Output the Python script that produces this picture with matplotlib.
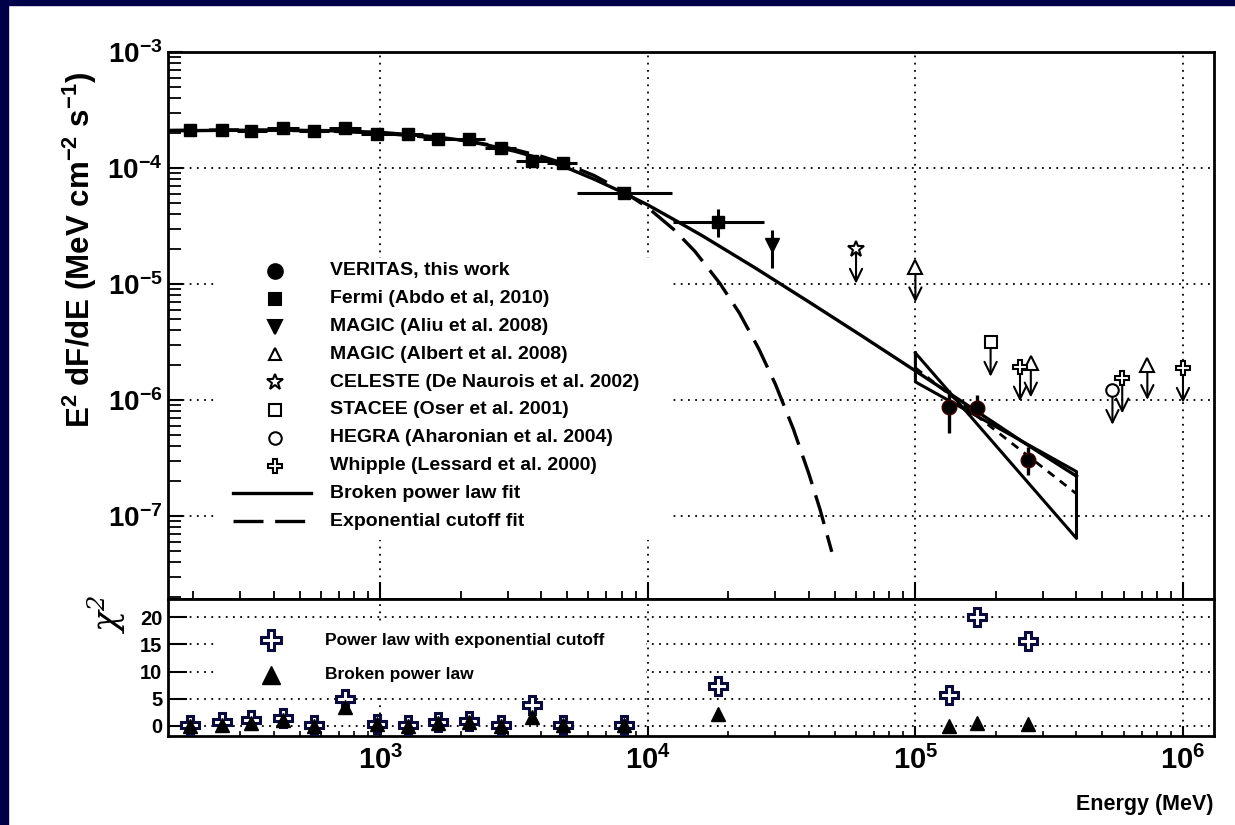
import numpy as np
import matplotlib.pyplot as plt
from matplotlib.lines import Line2D
from matplotlib.patches import Rectangle
from matplotlib.ticker import LogLocator, NullFormatter

plt.rcParams['font.family'] = ['Liberation Sans', 'DejaVu Sans']
plt.rcParams['font.weight'] = 'bold'
plt.rcParams['mathtext.default'] = 'regular'

# ---- data ----
# Fermi points (MeV, E^2 dF/dE), bin edges and flux errors
fermi_E = [195, 256, 330, 434, 564, 740, 970, 1265, 1646, 2146, 2816, 3692, 4816, 8145, 18230]
fermi_F = [2.13e-4, 2.13e-4, 2.09e-4, 2.19e-4, 2.09e-4, 2.21e-4, 1.96e-4, 1.96e-4,
           1.77e-4, 1.78e-4, 1.48e-4, 1.14e-4, 1.11e-4, 6.04e-5, 3.44e-5]
fermi_Elo = [170, 223, 291, 378, 495, 646, 847, 1108, 1443, 1879, 2458, 3224, 4217, 5435, 12400]
fermi_Ehi = [223, 291, 378, 495, 646, 847, 1108, 1443, 1879, 2458, 3224, 4217, 5435, 12360, 27200]
fermi_Flo = [2.06e-4, 2.06e-4, 2.02e-4, 2.12e-4, 2.02e-4, 2.13e-4, 1.89e-4, 1.89e-4,
             1.70e-4, 1.70e-4, 1.41e-4, 1.07e-4, 1.04e-4, 5.6e-5, 2.54e-5]
fermi_Fhi = [2.20e-4, 2.20e-4, 2.16e-4, 2.26e-4, 2.16e-4, 2.29e-4, 2.03e-4, 2.03e-4,
             1.84e-4, 1.86e-4, 1.55e-4, 1.21e-4, 1.18e-4, 6.5e-5, 4.43e-5]

# VERITAS
ver_E = [1.33e5, 1.70e5, 2.64e5]
ver_F = [8.75e-7, 8.47e-7, 3.04e-7]
ver_Flo = [5.16e-7, 7.4e-7, 2.25e-7]
ver_Fhi = [1.22e-6, 1.10e-6, 3.9e-7]

# MAGIC (Aliu et al. 2008)
magic1_E = [2.9e4]
magic1_F = [2.17e-5]
magic1_Flo = [1.37e-5]
magic1_Fhi = [2.92e-5]

# upper limits
magic2_E = [1.0e5, 2.70e5, 7.36e5]
magic2_F = [1.39e-5, 2.1e-6, 2.0e-6]
celeste_E = [6.0e4]
celeste_F = [2.01e-5]
stacee_E = [1.91e5]
stacee_F = [3.17e-6]
hegra_E = [5.45e5]
hegra_F = [1.22e-6]
whipple_E = [2.46e5, 5.93e5, 1.0e6]
whipple_F = [1.94e-6, 1.53e-6, 1.89e-6]

# fit curves
bpl_E = [160, 250, 400, 630, 1000, 1600, 2000, 2500, 3200, 4000, 5000, 6300, 8000, 10000,
         12500, 16000, 25000, 40000, 63000, 1.0e5, 1.6e5, 2.5e5, 4.0e5]
bpl_F = [2.09e-4, 2.11e-4, 2.12e-4, 2.10e-4, 2.03e-4, 1.86e-4, 1.74e-4, 1.58e-4, 1.39e-4,
         1.20e-4, 1.00e-4, 8.0e-5, 6.2e-5, 4.8e-5, 3.6e-5, 2.6e-5, 1.39e-5, 7.0e-6, 3.57e-6,
         1.78e-6, 8.7e-7, 4.4e-7, 2.2e-7]
exp_E = [160, 300, 600, 1000, 2000, 3000, 4000, 5000, 6300, 8000, 10000, 12500, 15000,
         18600, 22000, 26000, 30000, 35000, 40000, 44000, 48700]
exp_F = [2.11e-4, 2.13e-4, 2.09e-4, 2.0e-4, 1.74e-4, 1.49e-4, 1.26e-4, 1.07e-4, 8.6e-5,
         6.4e-5, 4.55e-5, 2.95e-5, 1.91e-5, 1.01e-5, 5.6e-6, 2.75e-6, 1.36e-6, 5.6e-7,
         2.3e-7, 1.14e-7, 4.9e-8]
bowtie_E = [1.0e5, 4.0e5, 4.0e5, 1.0e5, 1.0e5]
bowtie_F = [2.54e-6, 6.4e-8, 2.41e-7, 1.43e-6, 2.54e-6]
vpl_E = [1.0e5, 4.0e5]
vpl_F = [1.89e-6, 1.55e-7]

# chi^2 residuals (Fermi points then VERITAS points)
chi_E = fermi_E + ver_E
chi_expcut = [0.2, 0.6, 1.1, 1.5, 0.2, 5.0, 0.3, 0.2, 0.6, 0.9, 0.2, 3.9, 0.2, 0.2, 7.3, 5.6, 20.0, 15.6]
chi_bpl = [0.0, 0.2, 0.5, 1.0, 0.0, 3.5, 0.3, 0.0, 0.5, 0.6, 0.0, 1.7, 0.2, 0.2, 2.1, 0.0, 0.5, 0.4]

legend_labels = ['VERITAS, this work', 'Fermi (Abdo et al, 2010)', 'MAGIC (Aliu et al. 2008)',
                 'MAGIC (Albert et al. 2008)', 'CELESTE (De Naurois et al. 2002)',
                 'STACEE (Oser et al. 2001)', 'HEGRA (Aharonian et al. 2004)',
                 'Whipple (Lessard et al. 2000)', 'Broken power law fit', 'Exponential cutoff fit']
chi_labels = ['Power law with exponential cutoff', 'Broken power law']

# ---- figure ----
W, H = 1235, 825
fig = plt.figure(figsize=(W / 100, H / 100), dpi=100)


def fx(x):
    return x / W


def fy(y):
    return 1 - y / H


navy = '#00004a'
fig.add_artist(Rectangle((0, 0), fx(8), 1, transform=fig.transFigure, color=navy, zorder=-5))
fig.add_artist(Rectangle((0, fy(5)), 1, 1 - fy(5), transform=fig.transFigure, color=navy, zorder=-5))

L, R, T1, MID, B2 = 168, 1214, 52, 599, 736
ax1 = fig.add_axes([fx(L), fy(MID), fx(R) - fx(L), fy(T1) - fy(MID)])
ax2 = fig.add_axes([fx(L), fy(B2), fx(R) - fx(L), fy(MID) - fy(B2)], sharex=ax1)

dotted = (0, (1, 3))

# upper panel
ax1.set_xscale('log')
ax1.set_yscale('log')
ax1.set_axisbelow(True)
ax1.grid(True, which='major', ls=dotted, color='black', lw=1.3)
ax1.add_patch(Rectangle((0.0478, 0.108), 0.434, 0.515, transform=ax1.transAxes,
                        fc='white', ec='none', zorder=1))

ax1.plot(bpl_E, bpl_F, color='black', lw=2.4, zorder=3)
ax1.plot(exp_E, exp_F, color='black', lw=2.4, dashes=(9, 3.5), zorder=3)
ax1.plot(bowtie_E, bowtie_F, color='black', lw=2.2, zorder=3)
ax1.plot(vpl_E, vpl_F, color='black', lw=2.0, dashes=(3, 2.5), zorder=3)

fE = np.array(fermi_E)
fF = np.array(fermi_F)
ax1.errorbar(fE, fF, xerr=[fE - np.array(fermi_Elo), np.array(fermi_Ehi) - fE],
             yerr=[fF - np.array(fermi_Flo), np.array(fermi_Fhi) - fF],
             fmt='s', color='black', ms=8.5, elinewidth=2.2, capsize=0, zorder=4)
vE = np.array(ver_E)
vF = np.array(ver_F)
ax1.errorbar(vE, vF, yerr=[vF - np.array(ver_Flo), np.array(ver_Fhi) - vF],
             fmt='o', color='black', mec='#400000', ms=10.5, elinewidth=2.4, capsize=0, zorder=5)
mF = np.array(magic1_F)
ax1.errorbar(magic1_E, mF, yerr=[mF - np.array(magic1_Flo), np.array(magic1_Fhi) - mF],
             fmt='v', color='black', ms=10, elinewidth=2.2, capsize=0, zorder=5)

ul_sets = [(magic2_E, magic2_F, '^', 10), (celeste_E, celeste_F, '*', 12),
           (stacee_E, stacee_F, 's', 9), (hegra_E, hegra_F, 'o', 9),
           (whipple_E, whipple_F, 'P', 10)]
for Es, Fs, mk, ms in ul_sets:
    for e, f in zip(Es, Fs):
        ax1.annotate('', xy=(e, f * 0.5), xytext=(e, f),
                     arrowprops=dict(arrowstyle='->,head_length=0.45,head_width=0.22',
                                     lw=1.5, color='black', shrinkA=0, shrinkB=0,
                                     mutation_scale=20), zorder=4)
    ax1.plot(Es, Fs, mk, ms=ms, mfc='white', mec='black', mew=1.5, zorder=5)

ax1.set_xlim(161, 1.306e6)
ax1.set_ylim(1.92e-8, 1e-3)
ax1.xaxis.set_major_locator(LogLocator(base=10, numticks=20))
ax1.xaxis.set_minor_locator(LogLocator(base=10, subs=np.arange(2, 10), numticks=20))
ax1.yaxis.set_major_locator(LogLocator(base=10, numticks=20))
ax1.yaxis.set_minor_locator(LogLocator(base=10, subs=np.arange(2, 10), numticks=20))
ax1.xaxis.set_minor_formatter(NullFormatter())
ax1.yaxis.set_minor_formatter(NullFormatter())
ax1.tick_params(axis='x', which='major', direction='in', length=12, width=1.5,
                labelbottom=False, top=False)
ax1.tick_params(axis='x', which='minor', direction='in', length=6, width=1.3, top=False)
ax1.tick_params(axis='y', which='major', direction='in', length=11, width=1.5, right=False,
                labelsize=20, pad=4)
ax1.tick_params(axis='y', which='minor', direction='in', length=9, width=1.3, right=False)

# lower panel
ax2.set_axisbelow(True)
ax2.grid(True, which='major', ls=dotted, color='black', lw=1.3)
ax2.add_patch(Rectangle((0.0468, 0.314), 0.41, 0.518, transform=ax2.transAxes,
                        fc='white', ec='none', zorder=1))
ax2.plot(chi_E, chi_expcut, 'P', ms=13.5, mfc='white', mec='#0a0a3c', mew=2.2, zorder=4)
ax2.plot(chi_E, chi_bpl, '^', ms=10.5, color='black', zorder=5)
ax2.set_ylim(-1.9, 23.4)
ax2.set_yticks([0, 5, 10, 15, 20])
ax2.tick_params(axis='y', direction='in', length=14, width=1.5, right=False,
                labelsize=14.5, pad=4)
ax2.tick_params(axis='x', which='major', direction='in', length=7, width=1.5, top=False,
                labelsize=21, pad=7)
ax2.tick_params(axis='x', which='minor', direction='in', length=3.5, width=1.2, top=False)

for ax in (ax1, ax2):
    for sp in ax.spines.values():
        sp.set_linewidth(2)

# upper legend
row_y = [271 + 27.8 * i for i in range(10)]
mk_x, txt_x = 275, 330
leg_marks = [('o', 10.5, 'black'), ('s', 8.5, 'black'), ('v', 10, 'black'), ('^', 9, 'white'),
             ('*', 12, 'white'), ('s', 9, 'white'), ('o', 9, 'white'), ('P', 10, 'white')]
for i, (mk, ms, fc) in enumerate(leg_marks):
    fig.add_artist(Line2D([fx(mk_x)], [fy(row_y[i])], marker=mk, ms=ms, mfc=fc, mec='black',
                          mew=1.5, ls='none', transform=fig.transFigure, zorder=5))
fig.add_artist(Line2D([fx(233), fx(311)], [fy(row_y[8])] * 2, color='black', lw=2.4,
                      transform=fig.transFigure, zorder=5))
fig.add_artist(Line2D([fx(233), fx(311)], [fy(row_y[9])] * 2, color='black', lw=2.4,
                      dashes=(9, 3.5), transform=fig.transFigure, zorder=5))
for i, lab in enumerate(legend_labels):
    fig.text(fx(txt_x), fy(row_y[i]), lab, fontsize=14, fontweight='bold',
             ha='left', va='center')

# lower legend
fig.add_artist(Line2D([fx(271)], [fy(640)], marker='P', ms=15, mfc='white', mec='#0a0a3c',
                      mew=2.2, ls='none', transform=fig.transFigure, zorder=5))
fig.add_artist(Line2D([fx(271)], [fy(675)], marker='^', ms=12.5, color='black',
                      ls='none', transform=fig.transFigure, zorder=5))
fig.text(fx(325), fy(640), chi_labels[0], fontsize=12.5, fontweight='bold', ha='left', va='center')
fig.text(fx(325), fy(675), chi_labels[1], fontsize=12.5, fontweight='bold', ha='left', va='center')

# axis titles
fig.text(fx(80), fy(250), r'E$^{2}$ dF/dE (MeV cm$^{-2}$ s$^{-1}$)', rotation=90,
         fontsize=22.5, fontweight='bold', ha='center', va='center')
fig.text(fx(107), fy(614), r'χ$^{2}$', rotation=90, fontsize=25, fontfamily='DejaVu Serif',
         style='italic', fontweight='normal', ha='center', va='center')
fig.text(fx(1213), fy(810), 'Energy (MeV)', fontsize=15.5, fontweight='bold',
         ha='right', va='baseline')

fig.savefig('out.png', dpi=100)
